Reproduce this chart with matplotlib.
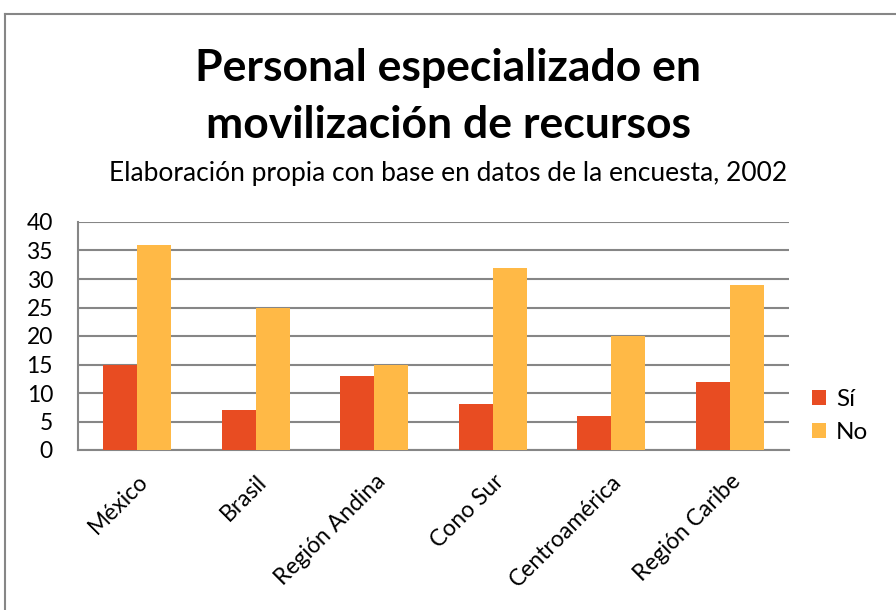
import matplotlib.pyplot as plt
import numpy as np
from matplotlib.lines import Line2D

# Data
regiones = ['México', 'Brasil', 'Región Andina', 'Cono Sur', 'Centroamérica', 'Región Caribe']
si = [15, 7, 13, 8, 6, 12]
no = [36, 25, 15, 32, 20, 29]

plt.rcParams['font.family'] = ['Lato', 'DejaVu Sans']

W, H = 896, 610
fig = plt.figure(figsize=(W / 100, H / 100), dpi=100)
ax = fig.add_axes([78 / W, 1 - 450 / H, (789 - 78) / W, (450 - 222) / H])

x = np.arange(len(regiones))
bw = 0.285
ax.bar(x - bw / 2, si, bw, color='#E84C22', label='Sí', zorder=3)
ax.bar(x + bw / 2, no, bw, color='#FFB946', label='No', zorder=3)

ax.set_xlim(-0.5, len(regiones) - 0.5)
ax.set_ylim(0, 40)
ax.set_yticks(range(0, 41, 5))
ax.yaxis.grid(True, color='#868686', linewidth=1.5, zorder=0)
for s in ['top', 'right']:
    ax.spines[s].set_visible(False)
for s in ['left', 'bottom']:
    ax.spines[s].set_color('#868686')
    ax.spines[s].set_linewidth(1.5)
ax.tick_params(length=0, labelsize=16.5, colors='black')
ax.tick_params(axis='y', pad=18)
ax.set_xticks(x)
ax.set_xticklabels(regiones, rotation=45, ha='right', rotation_mode='anchor')
ax.tick_params(axis='x', pad=15)

fig.text(0.5, 1 - 68 / H, 'Personal especializado en', ha='center', va='center',
         fontsize=32, fontweight='bold')
fig.text(0.5, 1 - 125 / H, 'movilización de recursos', ha='center', va='center',
         fontsize=32, fontweight='bold')
fig.text(0.5, 1 - 173 / H, 'Elaboración propia con base en datos de la encuesta, 2002',
         ha='center', va='center', fontsize=19)

fig.legend(loc='center left', bbox_to_anchor=(790 / W, 1 - 416 / H), frameon=False,
           fontsize=17.5, handlelength=0.6, handleheight=0.6, labelspacing=0.5,
           handletextpad=0.4)

# outer chart frame (cut off at right and bottom)
fig.add_artist(Line2D([5 / W, 1.01], [1 - 14 / H, 1 - 14 / H], color='#868686', linewidth=1.5))
fig.add_artist(Line2D([5 / W, 5 / W], [-0.01, 1 - 14 / H], color='#868686', linewidth=1.5))

fig.savefig('out.png', dpi=100)
